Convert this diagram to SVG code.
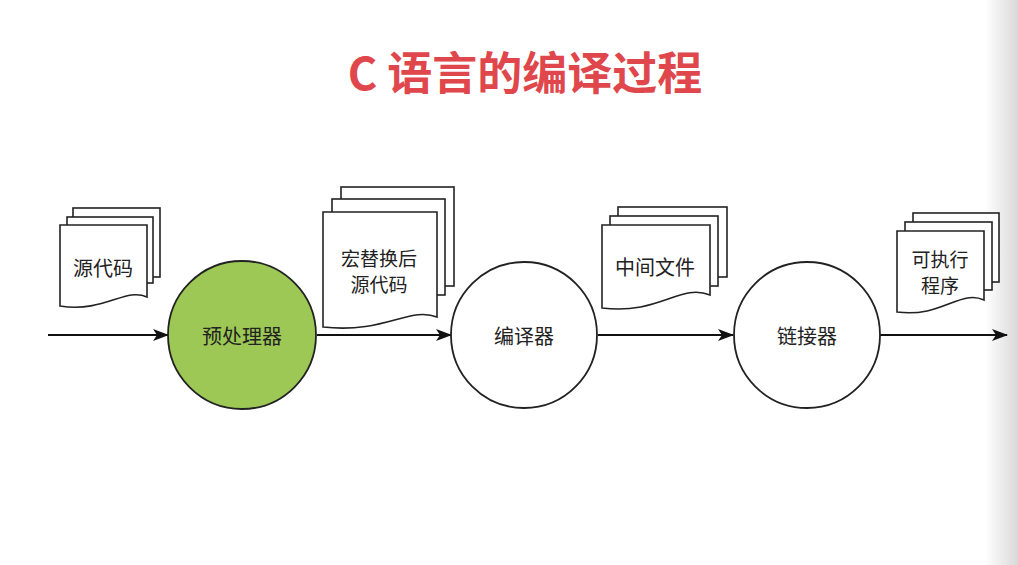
<svg xmlns="http://www.w3.org/2000/svg" width="1018" height="565" viewBox="0 0 1018 565">
<defs>
<linearGradient id="edge" x1="0" y1="0" x2="1" y2="0">
<stop offset="0" stop-color="#ffffff"/>
<stop offset="1" stop-color="#d9d9d9"/>
</linearGradient>
<marker id="arr" viewBox="0 0 16 12" refX="15" refY="6" markerWidth="16" markerHeight="12" markerUnits="userSpaceOnUse" orient="auto">
<path d="M0,0 L16,6 L0,12 L4,6 Z" fill="#111"/>
</marker>
<style>
.pg{fill:#fff;stroke:#222;stroke-width:1.6}
.nd{stroke:#222;stroke-width:1.8}
.lbl{font-family:"Noto Sans CJK SC","Noto Sans",sans-serif;font-size:20px;fill:#222;text-anchor:middle;dominant-baseline:central}
.two{font-size:19px}
.ln{stroke:#111;stroke-width:2;fill:none;marker-end:url(#arr)}
</style>
</defs>
<rect width="1018" height="565" fill="#fff"/>
<rect x="985" y="0" width="33" height="565" fill="url(#edge)"/>
<text x="525" y="90" font-family="'Noto Sans CJK SC','Noto Sans',sans-serif" font-size="45" font-weight="bold" fill="#E0474C" text-anchor="middle">C 语言的编译过程</text>

<g id="connectors">
<line class="ln" x1="48" y1="335" x2="168" y2="335"/>
<line class="ln" x1="317" y1="335" x2="451" y2="335"/>
<line class="ln" x1="598" y1="335" x2="733" y2="335"/>
<line class="ln" x1="880" y1="335" x2="1007" y2="335"/>
</g>

<g id="doc-source">
<rect class="pg" x="73" y="208" width="87" height="69"/>
<rect class="pg" x="67" y="217" width="86" height="66"/>
<path class="pg" d="M60,225 H147 V297 C125,287 105,313 60,306 Z"/>
<text class="lbl" x="103" y="267">源代码</text>
</g>

<g id="node-preprocessor">
<circle class="nd" cx="242" cy="335" r="74" fill="#9DC855"/>
<text class="lbl" x="242" y="335">预处理器</text>
</g>

<g id="doc-macro">
<rect class="pg" x="341" y="187" width="113" height="99"/>
<rect class="pg" x="332" y="199" width="113" height="96"/>
<path class="pg" d="M323,212 H437 V317 C410,306 385,334 323,327 Z"/>
<text class="lbl two" x="379" y="257">宏替换后</text>
<text class="lbl two" x="379" y="283">源代码</text>
</g>

<g id="node-compiler">
<circle class="nd" cx="524" cy="335" r="73" fill="#fff"/>
<text class="lbl" x="524" y="335">编译器</text>
</g>

<g id="doc-intermediate">
<rect class="pg" x="618" y="207" width="109" height="70"/>
<rect class="pg" x="610" y="216" width="108" height="70"/>
<path class="pg" d="M602,225 H710 V295 C680,283 660,315 602,308 Z"/>
<text class="lbl" x="655" y="266">中间文件</text>
</g>

<g id="node-linker">
<circle class="nd" cx="807" cy="335" r="73" fill="#fff"/>
<text class="lbl" x="807" y="335">链接器</text>
</g>

<g id="doc-executable">
<rect class="pg" x="913" y="213" width="86" height="69"/>
<rect class="pg" x="905" y="222" width="87" height="68"/>
<path class="pg" d="M897,231 H984 V300 C960,289 942,318 897,312 Z"/>
<text class="lbl two" x="940" y="258">可执行</text>
<text class="lbl two" x="940" y="284">程序</text>
</g>
</svg>
